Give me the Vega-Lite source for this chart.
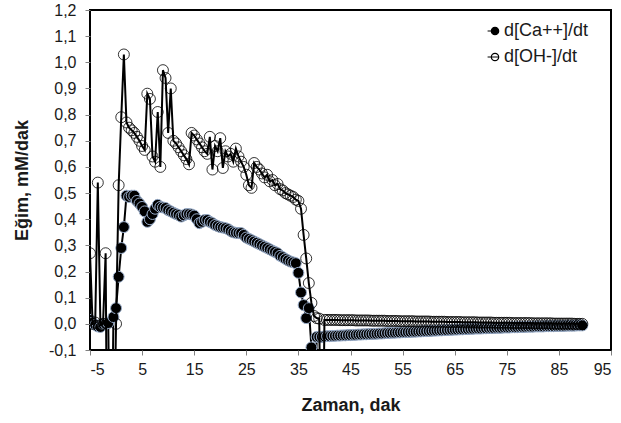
{
  "$schema": "https://vega.github.io/schema/vega-lite/v6.json",
  "width": 521,
  "height": 340,
  "autosize": {"type": "none"},
  "padding": {"left": 90, "top": 10, "right": 10, "bottom": 73},
  "background": "white",
  "config": {
    "view": {"stroke": "black", "strokeWidth": 2},
    "font": "Liberation Sans",
    "axis": {
      "grid": false,
      "domain": false,
      "ticks": true,
      "tickColor": "#808080",
      "tickSize": 5,
      "labelColor": "#1a1a1a",
      "labelFont": "Liberation Sans",
      "labelFontSize": 16,
      "titleFont": "Liberation Sans",
      "titleFontSize": 18,
      "titleFontWeight": "bold",
      "titleColor": "#1a1a1a"
    }
  },
  "data": {
    "values": [
      {"t": -5, "ca": 0.015, "oh": 0.27},
      {"t": -4.5, "ca": 0.004, "oh": 0.0},
      {"t": -4, "ca": -0.004, "oh": 0.005},
      {"t": -3.5, "ca": -0.01, "oh": 0.54},
      {"t": -3, "ca": -0.012, "oh": -0.005},
      {"t": -2.5, "ca": 0.0, "oh": 0.0},
      {"t": -2, "ca": 0.0, "oh": 0.27},
      {"t": -1.5, "ca": 0.003, "oh": -1.2},
      {"t": -1, "ca": -0.8, "oh": -1.0},
      {"t": -0.5, "ca": 0.026, "oh": -0.6},
      {"t": 0, "ca": 0.06, "oh": 0.0},
      {"t": 0.5, "ca": 0.18, "oh": 0.53},
      {"t": 1, "ca": 0.29, "oh": 0.79},
      {"t": 1.5, "ca": 0.37, "oh": 1.03},
      {"t": 2, "ca": 0.49, "oh": 0.77},
      {"t": 2.5, "ca": 0.485, "oh": 0.75},
      {"t": 3, "ca": 0.49, "oh": 0.74},
      {"t": 3.5, "ca": 0.49, "oh": 0.73},
      {"t": 4, "ca": 0.47, "oh": 0.715},
      {"t": 4.5, "ca": 0.46, "oh": 0.7},
      {"t": 5, "ca": 0.447, "oh": 0.68},
      {"t": 5.5, "ca": 0.43, "oh": 0.665},
      {"t": 6, "ca": 0.39, "oh": 0.88},
      {"t": 6.5, "ca": 0.4, "oh": 0.86},
      {"t": 7, "ca": 0.42, "oh": 0.64},
      {"t": 7.5, "ca": 0.44, "oh": 0.62},
      {"t": 8, "ca": 0.455, "oh": 0.81},
      {"t": 8.5, "ca": 0.447, "oh": 0.6},
      {"t": 9, "ca": 0.445, "oh": 0.97},
      {"t": 9.5, "ca": 0.443, "oh": 0.94},
      {"t": 10, "ca": 0.435, "oh": 0.73},
      {"t": 10.5, "ca": 0.43, "oh": 0.9},
      {"t": 11, "ca": 0.425, "oh": 0.7},
      {"t": 11.5, "ca": 0.42, "oh": 0.69},
      {"t": 12, "ca": 0.416, "oh": 0.675},
      {"t": 12.5, "ca": 0.41, "oh": 0.66},
      {"t": 13, "ca": 0.415, "oh": 0.645},
      {"t": 13.5, "ca": 0.42, "oh": 0.63},
      {"t": 14, "ca": 0.42, "oh": 0.61},
      {"t": 14.5, "ca": 0.418, "oh": 0.73},
      {"t": 15, "ca": 0.414, "oh": 0.72},
      {"t": 15.5, "ca": 0.4, "oh": 0.705},
      {"t": 16, "ca": 0.385, "oh": 0.69},
      {"t": 16.5, "ca": 0.39, "oh": 0.675},
      {"t": 17, "ca": 0.397, "oh": 0.66},
      {"t": 17.5, "ca": 0.397, "oh": 0.65},
      {"t": 18, "ca": 0.39, "oh": 0.715},
      {"t": 18.5, "ca": 0.385, "oh": 0.59},
      {"t": 19, "ca": 0.378, "oh": 0.68},
      {"t": 19.5, "ca": 0.374, "oh": 0.66},
      {"t": 20, "ca": 0.37, "oh": 0.71},
      {"t": 20.5, "ca": 0.368, "oh": 0.596},
      {"t": 21, "ca": 0.366, "oh": 0.66},
      {"t": 21.5, "ca": 0.362, "oh": 0.64},
      {"t": 22, "ca": 0.355, "oh": 0.65},
      {"t": 22.5, "ca": 0.35, "oh": 0.62},
      {"t": 23, "ca": 0.348, "oh": 0.67},
      {"t": 23.5, "ca": 0.347, "oh": 0.64},
      {"t": 24, "ca": 0.347, "oh": 0.62},
      {"t": 24.5, "ca": 0.34, "oh": 0.6},
      {"t": 25, "ca": 0.33, "oh": 0.57},
      {"t": 25.5, "ca": 0.325, "oh": 0.53},
      {"t": 26, "ca": 0.32, "oh": 0.52},
      {"t": 26.5, "ca": 0.315, "oh": 0.615},
      {"t": 27, "ca": 0.31, "oh": 0.6},
      {"t": 27.5, "ca": 0.305, "oh": 0.59},
      {"t": 28, "ca": 0.3, "oh": 0.575},
      {"t": 28.5, "ca": 0.295, "oh": 0.56},
      {"t": 29, "ca": 0.29, "oh": 0.57},
      {"t": 29.5, "ca": 0.285, "oh": 0.545},
      {"t": 30, "ca": 0.28, "oh": 0.55},
      {"t": 30.5, "ca": 0.275, "oh": 0.53},
      {"t": 31, "ca": 0.27, "oh": 0.535},
      {"t": 31.5, "ca": 0.26, "oh": 0.515},
      {"t": 32, "ca": 0.255, "oh": 0.51},
      {"t": 32.5, "ca": 0.248, "oh": 0.5},
      {"t": 33, "ca": 0.243, "oh": 0.495},
      {"t": 33.5, "ca": 0.238, "oh": 0.49},
      {"t": 34, "ca": 0.235, "oh": 0.485},
      {"t": 34.5, "ca": 0.232, "oh": 0.475},
      {"t": 35, "ca": 0.195, "oh": 0.47},
      {"t": 35.5, "ca": 0.12, "oh": 0.44},
      {"t": 36, "ca": 0.072, "oh": 0.34},
      {"t": 36.5, "ca": 0.022, "oh": 0.25},
      {"t": 37, "ca": 0.06, "oh": 0.156},
      {"t": 37.5, "ca": -0.09, "oh": 0.08},
      {"t": 38, "ca": -1.5, "oh": 0.03},
      {"t": 38.5, "ca": -0.05, "oh": 0.022},
      {"t": 39, "ca": -0.05, "oh": 0.02},
      {"t": 39.5, "ca": -0.05, "oh": -0.9},
      {"t": 40, "ca": -0.048, "oh": 0.015},
      {"t": 40.5, "ca": -0.047, "oh": 0.015},
      {"t": 41, "ca": -0.047, "oh": 0.015},
      {"t": 41.5, "ca": -0.046, "oh": 0.015},
      {"t": 42, "ca": -0.046, "oh": 0.015},
      {"t": 42.5, "ca": -0.045, "oh": 0.015},
      {"t": 43, "ca": -0.045, "oh": 0.014},
      {"t": 43.5, "ca": -0.044, "oh": 0.014},
      {"t": 44, "ca": -0.044, "oh": 0.014},
      {"t": 44.5, "ca": -0.043, "oh": 0.014},
      {"t": 45, "ca": -0.043, "oh": 0.014},
      {"t": 45.5, "ca": -0.042, "oh": 0.014},
      {"t": 46, "ca": -0.042, "oh": 0.013},
      {"t": 46.5, "ca": -0.041, "oh": 0.013},
      {"t": 47, "ca": -0.041, "oh": 0.013},
      {"t": 47.5, "ca": -0.04, "oh": 0.013},
      {"t": 48, "ca": -0.04, "oh": 0.013},
      {"t": 48.5, "ca": -0.039, "oh": 0.013},
      {"t": 49, "ca": -0.039, "oh": 0.012},
      {"t": 49.5, "ca": -0.038, "oh": 0.012},
      {"t": 50, "ca": -0.038, "oh": 0.012},
      {"t": 50.5, "ca": -0.037, "oh": 0.012},
      {"t": 51, "ca": -0.037, "oh": 0.012},
      {"t": 51.5, "ca": -0.036, "oh": 0.012},
      {"t": 52, "ca": -0.035, "oh": 0.011},
      {"t": 52.5, "ca": -0.035, "oh": 0.011},
      {"t": 53, "ca": -0.034, "oh": 0.011},
      {"t": 53.5, "ca": -0.034, "oh": 0.011},
      {"t": 54, "ca": -0.033, "oh": 0.011},
      {"t": 54.5, "ca": -0.033, "oh": 0.01},
      {"t": 55, "ca": -0.032, "oh": 0.01},
      {"t": 55.5, "ca": -0.032, "oh": 0.01},
      {"t": 56, "ca": -0.031, "oh": 0.01},
      {"t": 56.5, "ca": -0.031, "oh": 0.01},
      {"t": 57, "ca": -0.03, "oh": 0.01},
      {"t": 57.5, "ca": -0.03, "oh": 0.009},
      {"t": 58, "ca": -0.029, "oh": 0.009},
      {"t": 58.5, "ca": -0.029, "oh": 0.009},
      {"t": 59, "ca": -0.028, "oh": 0.009},
      {"t": 59.5, "ca": -0.028, "oh": 0.009},
      {"t": 60, "ca": -0.027, "oh": 0.009},
      {"t": 60.5, "ca": -0.027, "oh": 0.008},
      {"t": 61, "ca": -0.026, "oh": 0.008},
      {"t": 61.5, "ca": -0.026, "oh": 0.008},
      {"t": 62, "ca": -0.025, "oh": 0.008},
      {"t": 62.5, "ca": -0.025, "oh": 0.008},
      {"t": 63, "ca": -0.024, "oh": 0.008},
      {"t": 63.5, "ca": -0.024, "oh": 0.007},
      {"t": 64, "ca": -0.023, "oh": 0.007},
      {"t": 64.5, "ca": -0.023, "oh": 0.007},
      {"t": 65, "ca": -0.022, "oh": 0.007},
      {"t": 65.5, "ca": -0.022, "oh": 0.007},
      {"t": 66, "ca": -0.021, "oh": 0.007},
      {"t": 66.5, "ca": -0.021, "oh": 0.006},
      {"t": 67, "ca": -0.02, "oh": 0.006},
      {"t": 67.5, "ca": -0.02, "oh": 0.006},
      {"t": 68, "ca": -0.019, "oh": 0.006},
      {"t": 68.5, "ca": -0.019, "oh": 0.006},
      {"t": 69, "ca": -0.018, "oh": 0.006},
      {"t": 69.5, "ca": -0.018, "oh": 0.005},
      {"t": 70, "ca": -0.018, "oh": 0.005},
      {"t": 70.5, "ca": -0.017, "oh": 0.005},
      {"t": 71, "ca": -0.017, "oh": 0.005},
      {"t": 71.5, "ca": -0.016, "oh": 0.005},
      {"t": 72, "ca": -0.016, "oh": 0.005},
      {"t": 72.5, "ca": -0.016, "oh": 0.004},
      {"t": 73, "ca": -0.015, "oh": 0.004},
      {"t": 73.5, "ca": -0.015, "oh": 0.004},
      {"t": 74, "ca": -0.015, "oh": 0.004},
      {"t": 74.5, "ca": -0.014, "oh": 0.004},
      {"t": 75, "ca": -0.014, "oh": 0.004},
      {"t": 75.5, "ca": -0.014, "oh": 0.004},
      {"t": 76, "ca": -0.013, "oh": 0.003},
      {"t": 76.5, "ca": -0.013, "oh": 0.003},
      {"t": 77, "ca": -0.013, "oh": 0.003},
      {"t": 77.5, "ca": -0.012, "oh": 0.003},
      {"t": 78, "ca": -0.012, "oh": 0.003},
      {"t": 78.5, "ca": -0.012, "oh": 0.003},
      {"t": 79, "ca": -0.011, "oh": 0.003},
      {"t": 79.5, "ca": -0.011, "oh": 0.003},
      {"t": 80, "ca": -0.011, "oh": 0.002},
      {"t": 80.5, "ca": -0.01, "oh": 0.002},
      {"t": 81, "ca": -0.01, "oh": 0.002},
      {"t": 81.5, "ca": -0.01, "oh": 0.002},
      {"t": 82, "ca": -0.01, "oh": 0.002},
      {"t": 82.5, "ca": -0.009, "oh": 0.002},
      {"t": 83, "ca": -0.009, "oh": 0.002},
      {"t": 83.5, "ca": -0.009, "oh": 0.002},
      {"t": 84, "ca": -0.009, "oh": 0.001},
      {"t": 84.5, "ca": -0.008, "oh": 0.001},
      {"t": 85, "ca": -0.008, "oh": 0.001},
      {"t": 85.5, "ca": -0.008, "oh": 0.001},
      {"t": 86, "ca": -0.008, "oh": 0.001},
      {"t": 86.5, "ca": -0.007, "oh": 0.001},
      {"t": 87, "ca": -0.007, "oh": 0.001},
      {"t": 87.5, "ca": -0.007, "oh": 0.001},
      {"t": 88, "ca": -0.007, "oh": 0.0},
      {"t": 88.5, "ca": -0.006, "oh": 0.0},
      {"t": 89, "ca": -0.006, "oh": 0.0},
      {"t": 89.5, "ca": -0.006, "oh": 0.0}
    ]
  },
  "encoding": {
    "x": {
      "field": "t",
      "type": "quantitative",
      "scale": {"domain": [-5, 95], "nice": false, "zero": false},
      "axis": {
        "title": "Zaman, dak",
        "values": [-5, 5, 15, 25, 35, 45, 55, 65, 75, 85, 95],
        "labelExpr": "(datum.value < 0 ? '-' : '') + format(abs(datum.value), 'd')",
        "labelPadding": 6,
        "titlePadding": 19
      }
    },
    "y": {
      "field": "ca",
      "type": "quantitative",
      "scale": {"domain": [-0.1, 1.2], "nice": false, "zero": false},
      "axis": {
        "title": "Eğim, mM/dak",
        "values": [-0.1, 0, 0.1, 0.2, 0.3, 0.4, 0.5, 0.6, 0.7, 0.8, 0.9, 1.0, 1.1, 1.2],
        "labelExpr": "(datum.value < 0 ? '-' : '') + replace(format(abs(datum.value), '.1f'), '.', ',')",
        "labelPadding": 9,
        "titlePadding": 17
      }
    }
  },
  "layer": [
    {
      "data": {"values": [{}]},
      "mark": {"type": "rule", "color": "black", "strokeWidth": 1.5, "strokeDash": [1.5, 1.5]},
      "encoding": {
        "x": {"datum": -0.83, "type": "quantitative"},
        "y": {"datum": -0.1, "type": "quantitative"},
        "y2": {"datum": 1.2}
      }
    },
    {
      "mark": {"type": "line", "color": "black", "strokeWidth": 2, "clip": true},
      "encoding": {"y": {"field": "ca", "type": "quantitative"}}
    },
    {
      "mark": {"type": "circle", "size": 120, "opacity": 1, "stroke": "#9aaecb", "strokeWidth": 1, "clip": true},
      "encoding": {
        "y": {"field": "ca", "type": "quantitative"},
        "fill": {
          "datum": "d[Ca++]/dt",
          "type": "nominal",
          "scale": {"domain": ["d[Ca++]/dt", "d[OH-]/dt"], "range": ["black", "transparent"]},
          "legend": {
            "title": null,
            "orient": "none",
            "legendX": 396,
            "legendY": 12,
            "padding": 0,
            "rowPadding": 8,
            "labelOffset": 0,
            "labelFont": "Liberation Sans",
            "labelFontSize": 18,
            "labelColor": "#1a1a1a",
            "symbolType": "M-1,0L0.5,0M-0.5,0A0.5,0.5,0,1,1,0.5,0A0.5,0.5,0,1,1,-0.5,0Z",
            "symbolSize": 220,
            "symbolStrokeColor": "black",
            "symbolStrokeWidth": 1.2,
            "symbolOpacity": 1
          }
        }
      }
    },
    {
      "mark": {"type": "line", "color": "black", "strokeWidth": 2, "clip": true},
      "encoding": {"y": {"field": "oh", "type": "quantitative"}}
    },
    {
      "mark": {"type": "point", "shape": "circle", "size": 120, "opacity": 1, "stroke": "black", "strokeWidth": 0.8, "clip": true},
      "encoding": {
        "y": {"field": "oh", "type": "quantitative"},
        "fill": {"datum": "d[OH-]/dt", "type": "nominal"}
      }
    },
    {
      "data": {"values": [{}]},
      "mark": {"type": "rule", "color": "black", "strokeWidth": 1.8},
      "encoding": {
        "x": {"datum": -0.2, "type": "quantitative"},
        "x2": {"datum": 7.86},
        "y": {"datum": 1.143, "type": "quantitative"}
      }
    },
    {
      "data": {"values": [{}]},
      "mark": {"type": "point", "shape": "M1,-0.56L0,0L1,0.56", "size": 256, "filled": false, "opacity": 1, "stroke": "black", "strokeWidth": 1.8},
      "encoding": {
        "x": {"datum": -0.2, "type": "quantitative"},
        "y": {"datum": 1.143, "type": "quantitative"}
      }
    },
    {
      "data": {"values": [{}]},
      "mark": {"type": "rect", "fill": "white", "stroke": "black", "strokeWidth": 1.5},
      "encoding": {
        "x": {"datum": 7.86, "type": "quantitative"},
        "x2": {"datum": 16.11},
        "y": {"datum": 1.116, "type": "quantitative"},
        "y2": {"datum": 1.189}
      }
    },
    {
      "data": {"values": [{}]},
      "mark": {"type": "text", "text": "CO₂", "font": "Liberation Sans", "fontSize": 16, "color": "#1a1a1a", "align": "center", "baseline": "middle"},
      "encoding": {
        "x": {"datum": 11.98, "type": "quantitative"},
        "y": {"datum": 1.152, "type": "quantitative"}
      }
    }
  ]
}
